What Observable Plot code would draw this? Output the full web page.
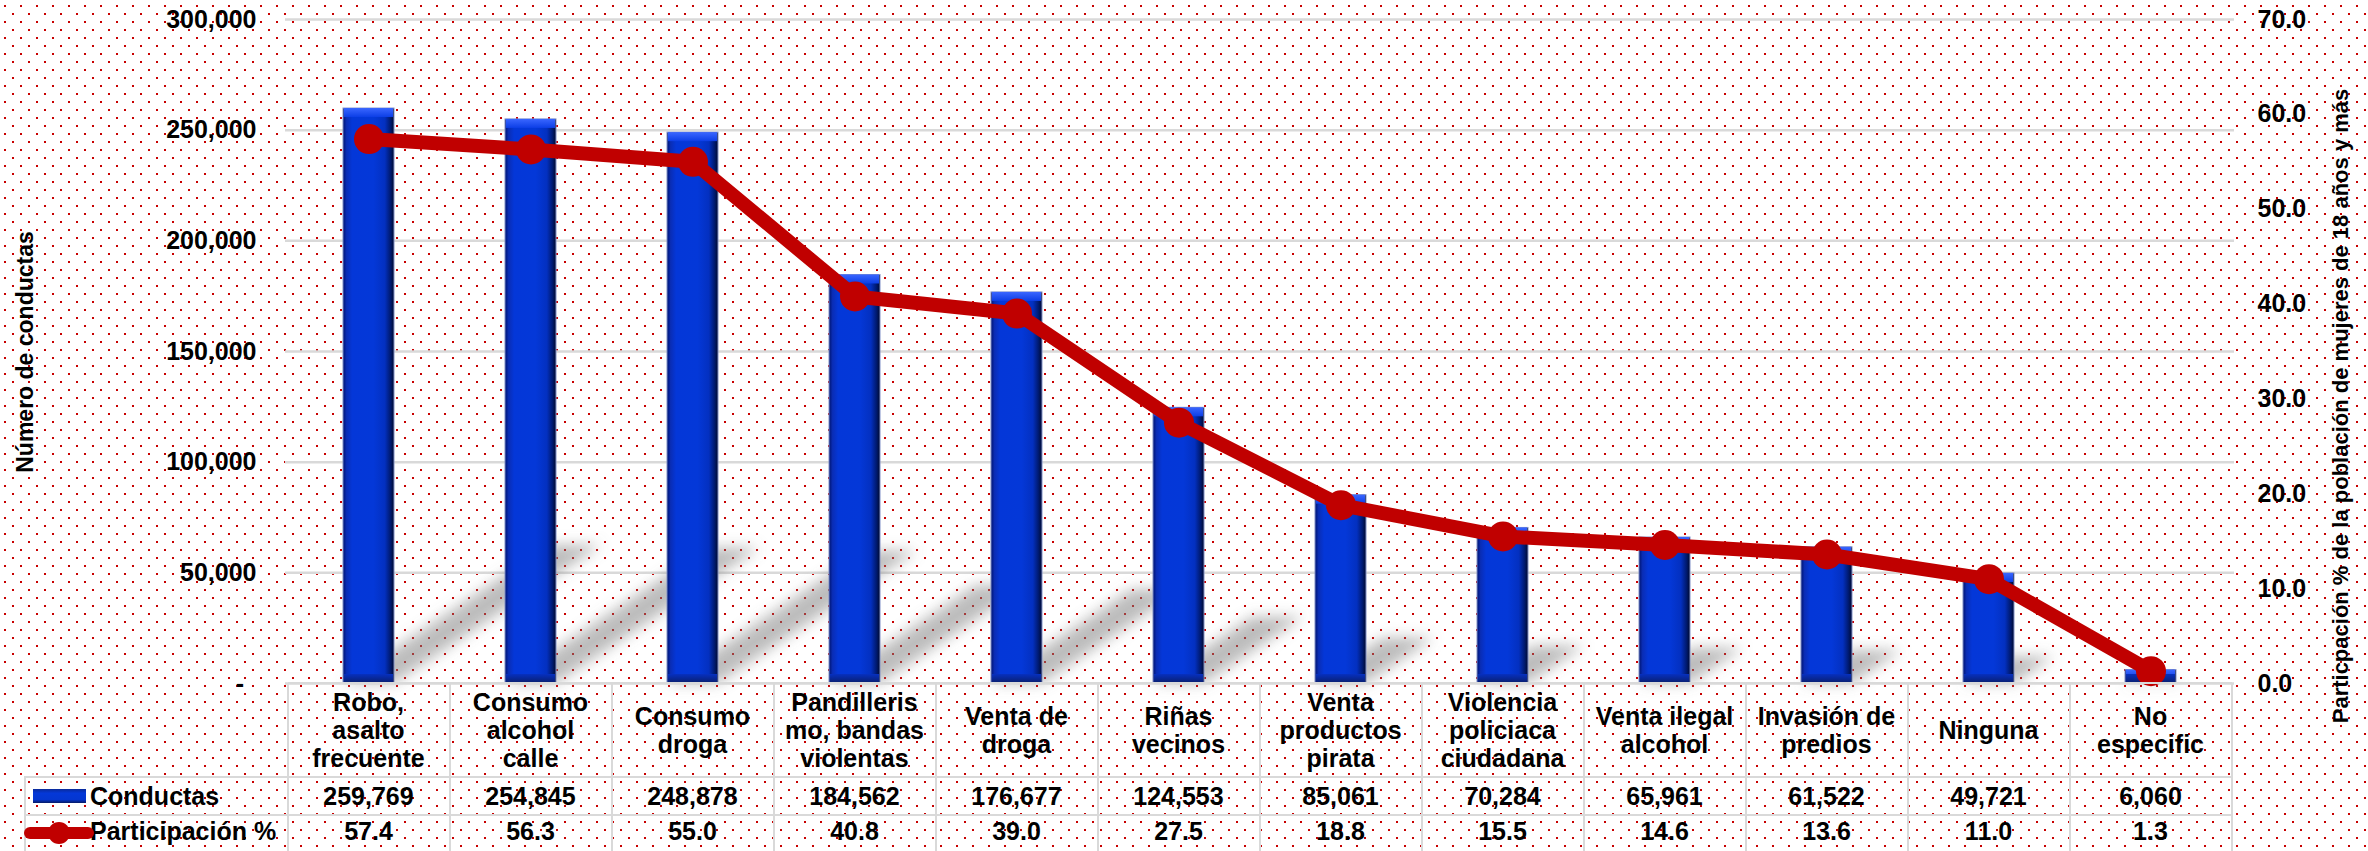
<!DOCTYPE html>
<html><head><meta charset="utf-8">
<script src="https://cdn.jsdelivr.net/npm/d3@7"></script>
<script src="https://cdn.jsdelivr.net/npm/@observablehq/plot@0.6"></script>
<style>
html,body{margin:0;padding:0;}
body{width:2368px;height:851px;overflow:hidden;background-color:#fff;
background-image:url("data:image/svg+xml,%3Csvg xmlns='http://www.w3.org/2000/svg' width='16' height='16'%3E%3Crect x='4' y='5' width='2' height='2' fill='%23c80000'/%3E%3Crect x='12' y='13' width='2' height='2' fill='%23c80000'/%3E%3C/svg%3E");
font-family:"Liberation Sans",Arial,sans-serif;}
#wrap{position:relative;width:2368px;height:851px;}
#wrap > svg{position:absolute;left:0;top:0;overflow:visible;}
.cell{position:absolute;display:flex;align-items:center;justify-content:center;text-align:center;white-space:pre-line;font-weight:bold;font-size:25px;line-height:28px;color:#000;}
.lbl{position:absolute;display:flex;align-items:center;font-weight:bold;font-size:25px;color:#000;white-space:nowrap;}
.hl,.vl{position:absolute;background:#d9d9d9;}
</style></head>
<body><div id="wrap"></div>
<script>
const categories = ["Robo,\nasalto\nfrecuente","Consumo\nalcohol\ncalle","Consumo\ndroga","Pandilleris\nmo, bandas\nviolentas","Venta de\ndroga","Riñas\nvecinos","Venta\nproductos\npirata","Violencia\npoliciaca\nciudadana","Venta ilegal\nalcohol","Invasión de\npredios","Ninguna","No\nespecific"];
const conductas = [259769, 254845, 248878, 184562, 176677, 124553, 85061, 70284, 65961, 61522, 49721, 6060];
const participacion = [57.4, 56.3, 55.0, 40.8, 39.0, 27.5, 18.8, 15.5, 14.6, 13.6, 11.0, 1.3];
const leftTicks = [0, 50000, 100000, 150000, 200000, 250000, 300000];
const rightTicks = [0, 10, 20, 30, 40, 50, 60, 70];
const seriesNames = ["Conductas", "Participación %"];
const leftTitle = "Número de conductas";
const rightTitle = "Particpación % de la población de mujeres de 18 años y más";

const data = categories.map((c, i) => ({cat: c, n: conductas[i], p: participacion[i]}));

const W = 2368, H = 700;
const M = {top: 19, bottom: 17, left: 285, right: 134};
const xOpts = {type: "band", domain: categories, paddingInner: 0.686, paddingOuter: 0.343, axis: null};
const style = {fontFamily: "Liberation Sans, Arial, sans-serif", fontSize: "25px", fontWeight: "bold", background: "transparent", overflow: "visible", color: "#000"};
const fmtN = d3.format(",");

const plot1 = Plot.plot({
  width: W, height: H, marginTop: M.top, marginBottom: M.bottom, marginLeft: M.left, marginRight: M.right,
  style,
  x: xOpts,
  y: {domain: [0, 300000], axis: null},
  marks: [
    Plot.ruleY(leftTicks.filter(d => d > 0), {stroke: "#d9d9d9", strokeWidth: 2.5}),
    Plot.barY(data, {x: "cat", y: "n", fill: "#7a7a7a", fillOpacity: 0.5}),
    Plot.ruleY([0], {stroke: "#d9d9d9", strokeWidth: 2.5}),
    Plot.barY(data, {x: "cat", y: "n", fill: "url(#barGrad)", stroke: "#8090c8", strokeWidth: 1}),
    Plot.barY(data, {x: "cat", y1: "n", y2: "n", insetBottom: -9, insetLeft: 1, insetRight: 1, fill: "url(#bevelTop)"}),
    Plot.barY(data, {x: "cat", y1: d => 0, y2: d => 0, insetTop: -9, insetLeft: 1, insetRight: 1, fill: "url(#bevelBot)"}),
    Plot.axisY({ticks: leftTicks, tickFormat: d => d === 0 ? "-\u2002" : fmtN(d), tickSize: 0, tickPadding: 29, label: null, fontWeight: "bold", fontSize: 25})
  ]
});

const plot2 = Plot.plot({
  width: W, height: H, marginTop: M.top, marginBottom: M.bottom, marginLeft: M.left, marginRight: M.right,
  style,
  x: xOpts,
  y: {domain: [0, 70], axis: null},
  marks: [
    Plot.line(data, {x: "cat", y: "p", stroke: "#c00000", strokeWidth: 14, strokeLinejoin: "round"}),
    Plot.dot(data, {x: "cat", y: "p", r: 15, fill: "#c00000", stroke: "none"}),
    Plot.axisY({anchor: "right", ticks: rightTicks, tickFormat: d3.format(".1f"), tickSize: 0, tickPadding: 23, label: null, fontWeight: "bold", fontSize: 25})
  ]
});

// defs: gradients and blur
const defs = d3.select(plot1).insert("defs", ":first-child");
defs.html(`
<linearGradient id="barGrad" x1="0" x2="1" y1="0" y2="0">
  <stop offset="0" stop-color="#001470"/>
  <stop offset="0.07" stop-color="#0a2db5"/>
  <stop offset="0.18" stop-color="#0437d8"/>
  <stop offset="0.6" stop-color="#0438d8"/>
  <stop offset="0.82" stop-color="#0330c0"/>
  <stop offset="0.93" stop-color="#001a70"/>
  <stop offset="1" stop-color="#000a30"/>
</linearGradient>
<linearGradient id="bevelTop" x1="0" x2="0" y1="0" y2="1">
  <stop offset="0" stop-color="#3a66ff"/>
  <stop offset="1" stop-color="#0c3ee6"/>
</linearGradient>
<linearGradient id="bevelBot" x1="0" x2="0" y1="0" y2="1">
  <stop offset="0" stop-color="#0630c0"/>
  <stop offset="1" stop-color="#0a1f6e"/>
</linearGradient>
<filter id="blur" filterUnits="userSpaceOnUse" x="0" y="0" width="2368" height="700">
  <feGaussianBlur stdDeviation="7"/>
</filter>`);

// cast shadow: shear the first bar layer away from the baseline (y = 0), blur in screen space
const y0 = plot1.scale("y").apply(0);
const A = 0.36, B = 0.24;
const shNode = plot1.querySelectorAll("g[aria-label='bar']")[0];
if (shNode) {
  const NS = "http://www.w3.org/2000/svg";
  const outer = document.createElementNS(NS, "g");
  outer.setAttribute("filter", "url(#blur)");
  const inner = document.createElementNS(NS, "g");
  inner.setAttribute("transform", `matrix(1,0,${-A},${B},${A * y0},${(1 - B) * y0})`);
  shNode.parentNode.insertBefore(outer, shNode);
  outer.appendChild(inner);
  inner.appendChild(shNode);
}

const wrap = document.getElementById("wrap");
wrap.appendChild(plot1);
wrap.appendChild(plot2);

// data table below the plot, aligned on the x band scale
const xs = plot1.scale("x");
const step = xs.step, bw = xs.bandwidth;
const left0 = xs.apply(categories[0]) + bw / 2 - step / 2;
const right0 = left0 + step * categories.length;
const top0 = y0, rowH = 777 - y0, r1 = 777, r2 = 815;
function add(cls, css, text) {
  const d = document.createElement("div");
  d.className = cls;
  Object.assign(d.style, css);
  if (text != null) d.textContent = text;
  wrap.appendChild(d);
  return d;
}
add("hl", {left: left0 + "px", top: (top0 - 1) + "px", width: (right0 - left0) + "px", height: "2px"});
add("hl", {left: "24px", top: (r1 - 1) + "px", width: (right0 - 24) + "px", height: "2px"});
add("hl", {left: "24px", top: (r2 - 1) + "px", width: (right0 - 24) + "px", height: "2px"});
add("vl", {left: "24px", top: r1 + "px", width: "2px", height: (851 - r1) + "px"});
for (let i = 0; i <= categories.length; i++) {
  add("vl", {left: (left0 + i * step - 1) + "px", top: top0 + "px", width: "2px", height: (851 - top0) + "px"});
}
categories.forEach((c, i) => {
  const l = left0 + i * step;
  add("cell", {left: l + "px", top: top0 + "px", width: step + "px", height: rowH + "px"}, c);
  add("cell", {left: l + "px", top: r1 + "px", width: step + "px", height: (r2 - r1) + "px"}, fmtN(conductas[i]));
  add("cell", {left: l + "px", top: r2 + "px", width: step + "px", height: "32px"}, d3.format(".1f")(participacion[i]));
});
add("lbl", {left: "90px", top: r1 + "px", height: (r2 - r1) + "px"}, seriesNames[0]);
add("lbl", {left: "90px", top: r2 + "px", height: "32px"}, seriesNames[1]);

// legend swatches + axis titles
const over = d3.select(wrap).append("svg").attr("width", W).attr("height", 851)
  .style("font-family", "Liberation Sans, Arial, sans-serif").style("pointer-events", "none");
const od = over.append("defs");
od.html(`<linearGradient id="legGrad" x1="0" x2="0" y1="0" y2="1">
  <stop offset="0" stop-color="#0a2a9a"/><stop offset="0.3" stop-color="#0438d8"/>
  <stop offset="0.75" stop-color="#0436d0"/><stop offset="1" stop-color="#061a66"/></linearGradient>`);
over.append("rect").attr("x", 33).attr("y", 789).attr("width", 53).attr("height", 14).attr("fill", "url(#legGrad)");
over.append("line").attr("x1", 30).attr("x2", 88).attr("y1", 833).attr("y2", 833)
  .attr("stroke", "#c00000").attr("stroke-width", 12).attr("stroke-linecap", "round");
over.append("circle").attr("cx", 59).attr("cy", 833).attr("r", 11).attr("fill", "#c00000");
over.append("text").attr("transform", "translate(25,352) rotate(-90)").attr("text-anchor", "middle")
  .attr("dominant-baseline", "central").attr("font-size", 23).attr("font-weight", "bold").text(leftTitle);
over.append("text").attr("transform", "translate(2340,406) rotate(-90)").attr("text-anchor", "middle")
  .attr("dominant-baseline", "central").attr("font-size", 22).attr("font-weight", "bold").text(rightTitle);
</script>
</body></html>
